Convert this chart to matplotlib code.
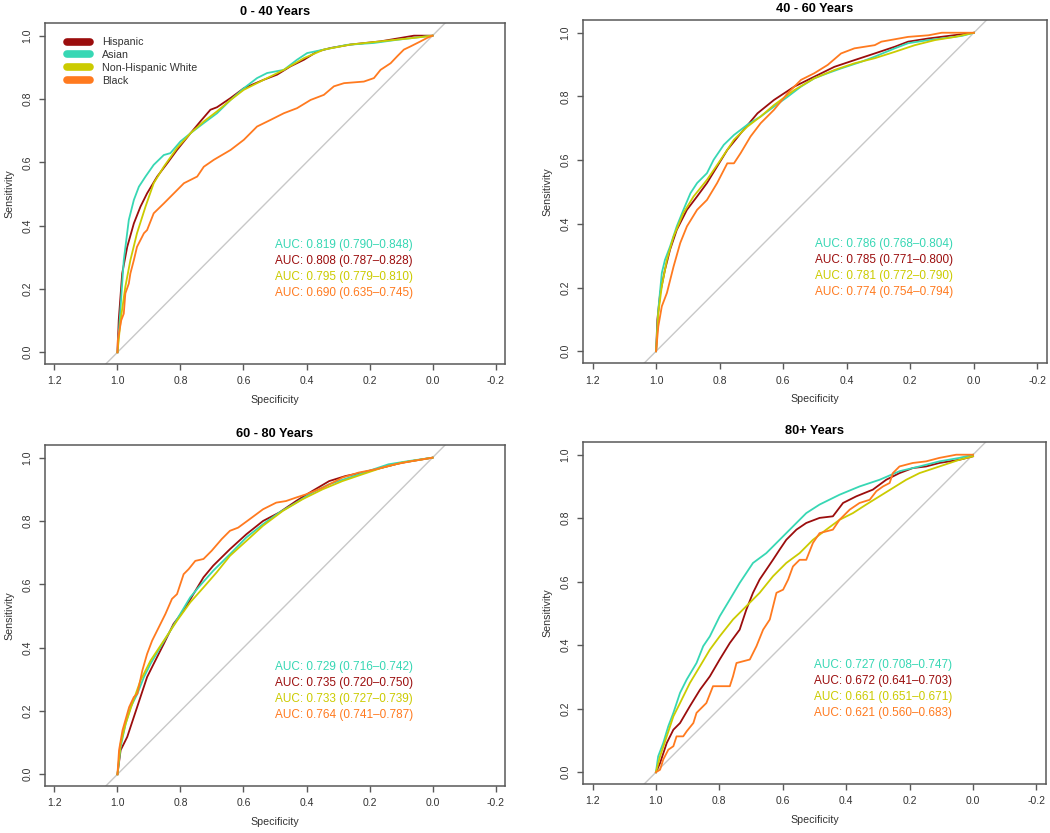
import matplotlib.pyplot as plt
import numpy as np

plt.rcParams['font.family'] = ['Liberation Sans', 'DejaVu Sans']
plt.rcParams['axes.unicode_minus'] = False

# ---- data (specificity, sensitivity) ----
groups = ['Hispanic', 'Asian', 'Non-Hispanic White', 'Black']
colors = ['#9B0D0D', '#37D7B4', '#CBCB00', '#FF7A1F']
titles = ['0 - 40 Years', '40 - 60 Years', '60 - 80 Years', '80+ Years']

p1_hispanic = [(1.0, 0.0), (0.996, 0.101), (0.985, 0.249), (0.969, 0.333), (0.948, 0.407), (0.927, 0.460),
               (0.906, 0.502), (0.874, 0.555), (0.842, 0.597), (0.811, 0.639), (0.768, 0.692), (0.737, 0.729),
               (0.705, 0.766), (0.684, 0.774), (0.641, 0.803), (0.599, 0.834), (0.535, 0.861), (0.493, 0.877),
               (0.451, 0.903), (0.408, 0.924), (0.366, 0.950), (0.324, 0.961), (0.260, 0.972), (0.165, 0.982),
               (0.059, 1.0), (0.0, 1.0)]
p1_asian = [(1.0, 0.0), (0.993, 0.101), (0.980, 0.291), (0.964, 0.418), (0.948, 0.481), (0.932, 0.523),
            (0.911, 0.555), (0.885, 0.592), (0.853, 0.623), (0.832, 0.629), (0.800, 0.666), (0.768, 0.692),
            (0.726, 0.724), (0.684, 0.755), (0.641, 0.797), (0.599, 0.834), (0.557, 0.866), (0.525, 0.882),
            (0.472, 0.892), (0.430, 0.924), (0.398, 0.945), (0.345, 0.956), (0.271, 0.971), (0.186, 0.977),
            (0.112, 0.987), (0.0, 1.0)]
p1_nhw = [(1.0, 0.0), (0.990, 0.101), (0.975, 0.207), (0.959, 0.291), (0.938, 0.376), (0.911, 0.460),
          (0.885, 0.534), (0.853, 0.586), (0.811, 0.645), (0.768, 0.692), (0.726, 0.729), (0.684, 0.761),
          (0.641, 0.797), (0.599, 0.829), (0.535, 0.861), (0.472, 0.892), (0.408, 0.929), (0.345, 0.956),
          (0.260, 0.972), (0.165, 0.982), (0.059, 0.993), (0.0, 1.0)]
p1_black = [(1.0, 0.0), (0.999, 0.038), (0.988, 0.101), (0.980, 0.122), (0.975, 0.186), (0.964, 0.217),
            (0.959, 0.249), (0.948, 0.291), (0.938, 0.333), (0.916, 0.376), (0.906, 0.386), (0.885, 0.439),
            (0.853, 0.470), (0.821, 0.502), (0.789, 0.534), (0.747, 0.555), (0.726, 0.586), (0.694, 0.608),
            (0.641, 0.639), (0.599, 0.671), (0.557, 0.713), (0.514, 0.734), (0.472, 0.755), (0.430, 0.771),
            (0.387, 0.797), (0.345, 0.813), (0.313, 0.840), (0.281, 0.850), (0.218, 0.855), (0.186, 0.866),
            (0.165, 0.892), (0.133, 0.913), (0.112, 0.935), (0.091, 0.956), (0.070, 0.966), (0.038, 0.982),
            (0.017, 0.993), (0.0, 1.0)]

p2_hispanic = [(1.0, 0.0), (0.996, 0.099), (0.987, 0.183), (0.972, 0.256), (0.956, 0.319), (0.935, 0.381),
               (0.903, 0.444), (0.871, 0.486), (0.840, 0.528), (0.808, 0.580), (0.776, 0.632), (0.734, 0.684),
               (0.681, 0.747), (0.629, 0.789), (0.565, 0.831), (0.502, 0.862), (0.439, 0.893), (0.376, 0.914),
               (0.312, 0.935), (0.249, 0.956), (0.207, 0.972), (0.143, 0.982), (0.080, 0.990), (0.0, 1.0)]
p2_asian = [(1.0, 0.0), (0.993, 0.131), (0.982, 0.246), (0.972, 0.287), (0.956, 0.329), (0.935, 0.392),
            (0.914, 0.444), (0.892, 0.496), (0.871, 0.528), (0.840, 0.559), (0.819, 0.601), (0.787, 0.648),
            (0.755, 0.679), (0.713, 0.711), (0.671, 0.737), (0.629, 0.768), (0.586, 0.799), (0.544, 0.831),
            (0.502, 0.857), (0.460, 0.873), (0.418, 0.888), (0.354, 0.909), (0.312, 0.925), (0.249, 0.951),
            (0.207, 0.967), (0.143, 0.977), (0.101, 0.982), (0.038, 0.990), (0.0, 1.0)]
p2_nhw = [(1.0, 0.0), (0.993, 0.120), (0.982, 0.204), (0.966, 0.287), (0.945, 0.360), (0.914, 0.434),
          (0.882, 0.486), (0.840, 0.538), (0.797, 0.601), (0.755, 0.664), (0.713, 0.705), (0.671, 0.737),
          (0.629, 0.773), (0.565, 0.820), (0.502, 0.857), (0.439, 0.883), (0.376, 0.904), (0.312, 0.920),
          (0.249, 0.940), (0.186, 0.961), (0.122, 0.977), (0.059, 0.987), (0.0, 1.0)]
p2_black = [(1.0, 0.0), (0.993, 0.078), (0.982, 0.141), (0.966, 0.183), (0.945, 0.266), (0.924, 0.340),
            (0.903, 0.392), (0.871, 0.444), (0.840, 0.475), (0.808, 0.528), (0.776, 0.590), (0.755, 0.590),
            (0.734, 0.622), (0.703, 0.674), (0.671, 0.716), (0.629, 0.758), (0.586, 0.810), (0.544, 0.852),
            (0.502, 0.873), (0.460, 0.899), (0.418, 0.935), (0.376, 0.951), (0.312, 0.961), (0.291, 0.972),
            (0.207, 0.987), (0.143, 0.992), (0.101, 1.0), (0.0, 1.0)]

p3_hispanic = [(1.0, 0.0), (0.990, 0.076), (0.969, 0.118), (0.948, 0.181), (0.927, 0.244), (0.906, 0.307),
               (0.885, 0.349), (0.853, 0.412), (0.822, 0.475), (0.790, 0.517), (0.759, 0.569), (0.727, 0.622),
               (0.696, 0.659), (0.643, 0.711), (0.591, 0.758), (0.538, 0.800), (0.486, 0.827), (0.433, 0.863),
               (0.381, 0.895), (0.328, 0.926), (0.276, 0.942), (0.223, 0.953), (0.161, 0.968), (0.098, 0.984),
               (0.0, 1.0)]
p3_asian = [(1.0, 0.0), (0.990, 0.086), (0.974, 0.160), (0.958, 0.212), (0.937, 0.254), (0.916, 0.307),
            (0.895, 0.349), (0.864, 0.401), (0.832, 0.454), (0.801, 0.506), (0.769, 0.559), (0.738, 0.596),
            (0.696, 0.643), (0.643, 0.695), (0.591, 0.748), (0.538, 0.790), (0.486, 0.827), (0.433, 0.858),
            (0.381, 0.890), (0.328, 0.916), (0.265, 0.937), (0.203, 0.958), (0.140, 0.979), (0.077, 0.989),
            (0.0, 1.0)]
p3_nhw = [(1.0, 0.0), (0.990, 0.097), (0.974, 0.160), (0.953, 0.223), (0.927, 0.296), (0.895, 0.359),
          (0.853, 0.422), (0.811, 0.485), (0.769, 0.543), (0.727, 0.590), (0.685, 0.638), (0.643, 0.690),
          (0.591, 0.737), (0.538, 0.785), (0.475, 0.832), (0.412, 0.869), (0.349, 0.900), (0.286, 0.926),
          (0.224, 0.947), (0.161, 0.968), (0.098, 0.984), (0.0, 1.0)]
p3_black = [(1.0, 0.0), (0.995, 0.076), (0.984, 0.139), (0.963, 0.212), (0.948, 0.244), (0.937, 0.254),
            (0.921, 0.328), (0.906, 0.380), (0.890, 0.422), (0.869, 0.464), (0.848, 0.506), (0.827, 0.554),
            (0.811, 0.569), (0.790, 0.632), (0.774, 0.648), (0.753, 0.674), (0.727, 0.680), (0.701, 0.706),
            (0.669, 0.743), (0.643, 0.769), (0.617, 0.779), (0.580, 0.806), (0.538, 0.837), (0.496, 0.858),
            (0.465, 0.863), (0.433, 0.874), (0.402, 0.884), (0.349, 0.905), (0.286, 0.937), (0.234, 0.953),
            (0.182, 0.963), (0.119, 0.979), (0.066, 0.989), (0.0, 1.0)]

p4_hispanic = [(1.0, 0.0), (0.987, 0.029), (0.966, 0.092), (0.945, 0.134), (0.924, 0.155), (0.893, 0.208),
               (0.861, 0.260), (0.830, 0.302), (0.799, 0.355), (0.767, 0.407), (0.736, 0.449), (0.715, 0.512),
               (0.694, 0.565), (0.673, 0.607), (0.652, 0.638), (0.631, 0.669), (0.610, 0.701), (0.589, 0.732),
               (0.557, 0.764), (0.526, 0.785), (0.484, 0.801), (0.442, 0.806), (0.410, 0.848), (0.368, 0.869),
               (0.316, 0.890), (0.274, 0.921), (0.232, 0.942), (0.190, 0.958), (0.148, 0.963), (0.106, 0.974),
               (0.043, 0.984), (0.0, 0.995)]
p4_asian = [(1.0, 0.0), (0.993, 0.050), (0.977, 0.092), (0.961, 0.145), (0.945, 0.187), (0.924, 0.250),
            (0.903, 0.292), (0.872, 0.344), (0.851, 0.397), (0.830, 0.428), (0.799, 0.491), (0.767, 0.544),
            (0.736, 0.596), (0.694, 0.659), (0.652, 0.690), (0.610, 0.732), (0.568, 0.774), (0.526, 0.816),
            (0.484, 0.843), (0.421, 0.874), (0.358, 0.900), (0.295, 0.921), (0.232, 0.948), (0.169, 0.963),
            (0.106, 0.979), (0.043, 0.990), (0.0, 1.0)]
p4_nhw = [(1.0, 0.0), (0.987, 0.050), (0.966, 0.113), (0.945, 0.176), (0.924, 0.218), (0.893, 0.281),
          (0.861, 0.334), (0.830, 0.386), (0.799, 0.428), (0.757, 0.481), (0.715, 0.523), (0.673, 0.565),
          (0.631, 0.617), (0.589, 0.659), (0.547, 0.690), (0.505, 0.732), (0.463, 0.764), (0.421, 0.795),
          (0.379, 0.816), (0.337, 0.843), (0.295, 0.869), (0.253, 0.895), (0.211, 0.921), (0.169, 0.942),
          (0.106, 0.963), (0.043, 0.984), (0.0, 0.995)]
p4_black = [(1.0, 0.0), (0.987, 0.008), (0.977, 0.040), (0.961, 0.071), (0.945, 0.082), (0.935, 0.113),
            (0.914, 0.113), (0.903, 0.129), (0.882, 0.155), (0.872, 0.187), (0.841, 0.218), (0.820, 0.271),
            (0.767, 0.271), (0.757, 0.302), (0.746, 0.344), (0.704, 0.355), (0.683, 0.397), (0.662, 0.449),
            (0.641, 0.481), (0.620, 0.565), (0.599, 0.575), (0.583, 0.607), (0.568, 0.648), (0.547, 0.669),
            (0.526, 0.669), (0.505, 0.722), (0.484, 0.753), (0.442, 0.764), (0.421, 0.795), (0.389, 0.827),
            (0.358, 0.848), (0.326, 0.858), (0.305, 0.885), (0.284, 0.900), (0.263, 0.911), (0.253, 0.942),
            (0.232, 0.963), (0.190, 0.974), (0.148, 0.979), (0.106, 0.990), (0.053, 1.0), (0.0, 1.0)]

# AUC (95% CI), order of the text block: Asian, Hispanic, Non-Hispanic White, Black
auc_order = [1, 0, 2, 3]
auc_0_40 = [(0.819, 0.790, 0.848), (0.808, 0.787, 0.828), (0.795, 0.779, 0.810), (0.690, 0.635, 0.745)]
auc_40_60 = [(0.786, 0.768, 0.804), (0.785, 0.771, 0.800), (0.781, 0.772, 0.790), (0.774, 0.754, 0.794)]
auc_60_80 = [(0.729, 0.716, 0.742), (0.735, 0.720, 0.750), (0.733, 0.727, 0.739), (0.764, 0.741, 0.787)]
auc_80_up = [(0.727, 0.708, 0.747), (0.672, 0.641, 0.703), (0.661, 0.651, 0.671), (0.621, 0.560, 0.683)]

curves = [
    [p1_hispanic, p1_asian, p1_nhw, p1_black],
    [p2_hispanic, p2_asian, p2_nhw, p2_black],
    [p3_hispanic, p3_asian, p3_nhw, p3_black],
    [p4_hispanic, p4_asian, p4_nhw, p4_black],
]
aucs = [auc_0_40, auc_40_60, auc_60_80, auc_80_up]

# axes boxes in pixels (left, top, right, bottom) on a 1050x833 canvas
W, H = 1050, 833
boxes = [(45, 23, 505, 364), (583, 20, 1047, 363), (45, 445, 505, 786), (583, 442, 1046, 784)]

fig = plt.figure(figsize=(W / 100, H / 100), dpi=100)
edge = '#595959'

for i, (l, t, r, b) in enumerate(boxes):
    ax = fig.add_axes([l / W, 1 - b / H, (r - l) / W, (b - t) / H])
    ax.set_xlim(1.23, -0.23)
    ax.set_ylim(-0.037, 1.04)

    # chance line
    ax.axline((1.0, 0.0), (0.0, 1.0), color='#C8C8C8', lw=1.0, zorder=1)

    for pts, c in zip(curves[i], colors):
        arr = np.array(pts)
        ax.plot(arr[:, 0], arr[:, 1], color=c, lw=1.3, zorder=2)

    ys = [0.338, 0.287, 0.237, 0.187]
    for y, (a, lo, hi), g in zip(ys, aucs[i], auc_order):
        ax.text(0.5, y, f'AUC: {a:.3f} ({lo:.3f}\u2013{hi:.3f})', color=colors[g],
                fontsize=8.5, ha='left', va='center')

    ax.set_xticks(np.round(np.arange(1.2, -0.21, -0.2), 1))
    ax.set_yticks(np.round(np.arange(0, 1.01, 0.2), 1))
    ax.xaxis.set_major_formatter(plt.FuncFormatter(lambda v, p: f'{v:.1f}'))
    ax.yaxis.set_major_formatter(plt.FuncFormatter(lambda v, p: f'{v:.1f}'))
    ax.tick_params(direction='out', length=4, width=1, color=edge, labelsize=7.5,
                   labelcolor='#333333', pad=5)
    for lab in ax.get_yticklabels():
        lab.set_rotation(90)
        lab.set_va('center')
    for s in ax.spines.values():
        s.set_color(edge)
        s.set_linewidth(1.1)

    ax.set_xlabel('Specificity', fontsize=7.7, color='#333333', labelpad=6)
    ax.set_ylabel('Sensitivity', fontsize=7.7, color='#333333', labelpad=6)
    ax.set_title(titles[i], fontsize=9.2, fontweight='bold', pad=6)

    if i == 0:
        handles = [plt.Line2D([], [], color=c, lw=5.5, solid_capstyle='round') for c in colors]
        ax.legend(handles, groups, loc='upper left', bbox_to_anchor=(0.047, 0.958), frameon=False,
                  fontsize=7.7, handlelength=2.2, handletextpad=1.1, labelspacing=0.26,
                  borderpad=0, borderaxespad=0, labelcolor='#333333')

fig.savefig('out.png', dpi=100)
